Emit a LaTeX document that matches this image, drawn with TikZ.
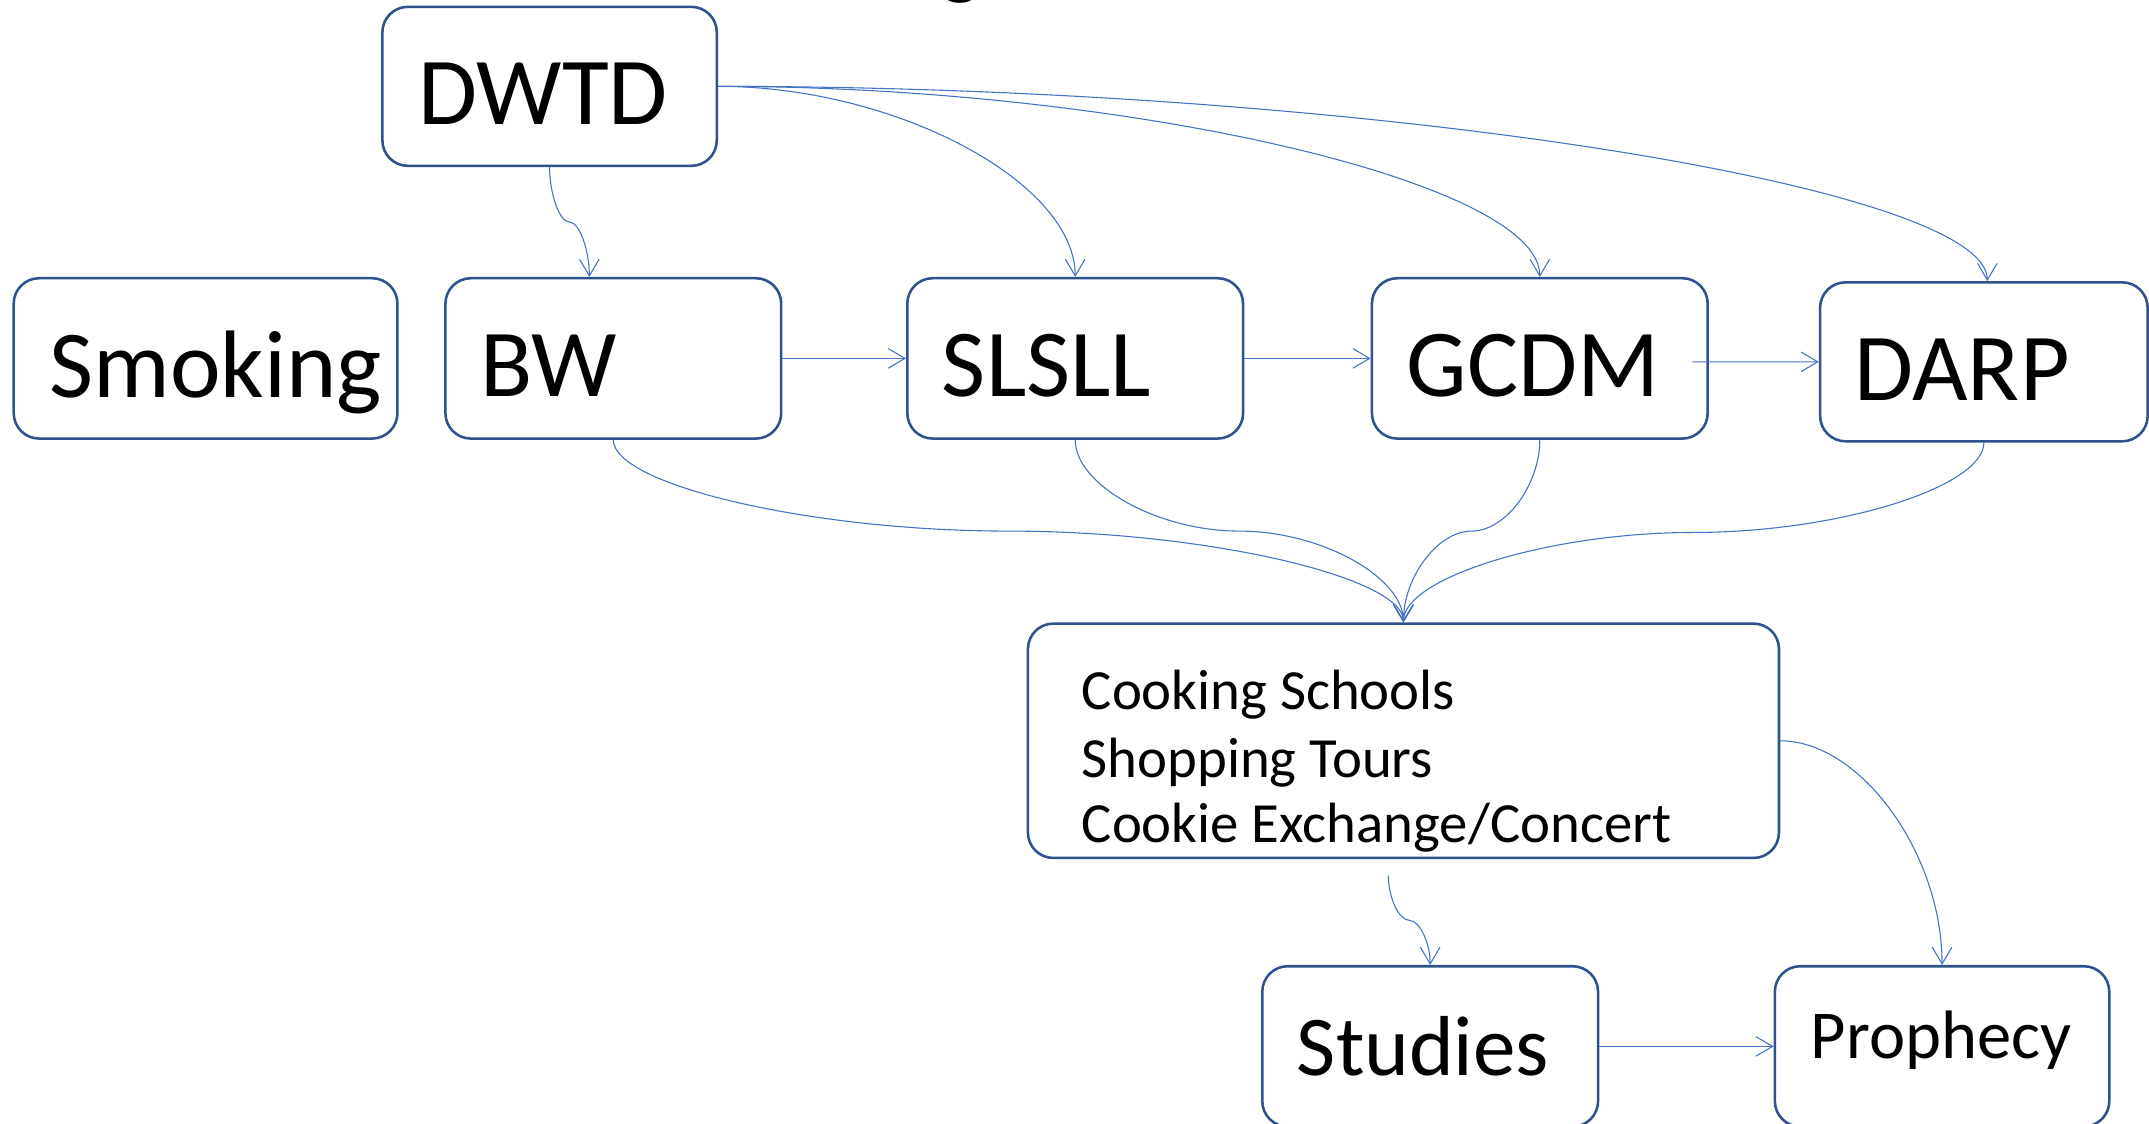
\documentclass[tikz,border=0pt]{standalone}
\usepackage{fontspec}
\setmainfont{Carlito}
\usetikzlibrary{arrows.meta,fit}
\definecolor{boxblue}{HTML}{2F528F}
\definecolor{lineblue}{HTML}{4472C4}
\begin{document}
\begin{tikzpicture}[x=0.7pt,y=-0.7pt,
  boxnode/.style={draw=boxblue, line width=1.3pt, rounded corners=13pt, fill=white, inner sep=0pt},
  lbl/.style={inner sep=0pt, anchor=base west, font=\fontsize{49}{56}\selectfont},
  midlbl/.style={lbl, font=\fontsize{29}{34}\selectfont},
  conn/.style={draw=lineblue, line width=0.55pt, -{Straight Barb[length=8.5pt,width=10pt]}}]
\useasboundingbox[fill=white] (0,0) rectangle (1568,820);

% partial title glyph cut off at the top edge (as in the reference)
\node[inner sep=0pt, anchor=south, font=\fontsize{44}{50}\selectfont] (titleg) at (701,3) {g};

% boxes
\node[boxnode, fit={(279,5) (523,121)}] (dwtd) {};
\node[boxnode, fit={(10,203) (290,320)}] (smoking) {};
\node[boxnode, fit={(325,203) (570,320)}] (bw) {};
\node[boxnode, fit={(662,203) (907,320)}] (slsll) {};
\node[boxnode, fit={(1001,203) (1246,320)}] (gcdm) {};
\node[boxnode, fit={(1328,206) (1567,322)}] (darp) {};
\node[boxnode, fit={(750,455) (1298,626)}] (mid) {};
\node[boxnode, fit={(921,705) (1166,822)}] (studies) {};
\node[boxnode, fit={(1295,705) (1539,822)}] (prophecy) {};

% labels
\node[lbl] (dwtdT) at (305,91) {DWTD};
\node[lbl] (smokingT) at (36,290) {Smoking};
\node[lbl] (bwT) at (350,289) {BW};
\node[lbl] (slsllT) at (687,289) {SLSLL};
\node[lbl] (gcdmT) at (1026,289) {GCDM};
\node[lbl] (darpT) at (1353,292) {DARP};
\node[midlbl] (midA) at (789,518) {Cooking Schools};
\node[midlbl] (midB) at (789,567) {Shopping Tours};
\node[midlbl] (midC) at (789,615) {Cookie Exchange/Concert};
\node[lbl, font=\fontsize{43.5}{50}\selectfont] (studiesT) at (946,785) {Studies};
\node[lbl, font=\fontsize{35}{40}\selectfont] (prophecyT) at (1321,772) {Prophecy};

% helper coordinates
\coordinate (bwin) at ([xshift=-12.25pt]bw.north);
\coordinate (midout) at ([xshift=-7.7pt,yshift=-8.4pt]mid.south);
\coordinate (gcdmout) at ([xshift=-8.4pt,yshift=-1.75pt]gcdm.east);
\coordinate (darpin) at ([xshift=1.75pt]darp.north);

% connectors from DWTD
\draw[conn] (dwtd.south) .. controls (401,141.5) and (408.25,162) .. (415.5,162)
  .. controls (422.75,162) and (430,182.5) .. (bwin);
\draw[conn] (dwtd.east) .. controls (653.75,63) and (784.5,133) .. (slsll.north);
\draw[conn] (dwtd.east) .. controls (823.25,63) and (1123.5,133) .. (gcdm.north);
\draw[conn] (dwtd.east) .. controls (986.5,63) and (1450,134.5) .. (darpin);

% chain
\draw[conn] (bw.east) -- (slsll.west);
\draw[conn] (slsll.east) -- (gcdm.west);
\draw[conn] (gcdmout) -- (darp.west);

% into the middle box
\draw[conn] (bw.south) .. controls (447.5,353.75) and (591.6,387.5) .. (735.75,387.5)
  .. controls (879.9,387.5) and (1024,421.25) .. (mid.north);
\draw[conn] (slsll.south) .. controls (784.5,353.75) and (844.4,387.5) .. (904.25,387.5)
  .. controls (964.1,387.5) and (1024,421.25) .. (mid.north);
\draw[conn] (gcdm.south) .. controls (1123.5,353.75) and (1098.6,387.5) .. (1073.75,387.5)
  .. controls (1048.9,387.5) and (1024,421.25) .. (mid.north);
\draw[conn] (darp.south) .. controls (1447.5,355.25) and (1341.6,388.5) .. (1235.75,388.5)
  .. controls (1129.9,388.5) and (1024,421.75) .. (mid.north);

% out of the middle box
\draw[conn] (midout) .. controls (1013,654.75) and (1020.6,671.5) .. (1028.25,671.5)
  .. controls (1035.9,671.5) and (1043.5,688.25) .. (studies.north);
\draw[conn] (mid.east) .. controls (1357.5,540.5) and (1417,622.75) .. (prophecy.north);
\draw[conn] (studies.east) -- (prophecy.west);
\end{tikzpicture}
\end{document}
